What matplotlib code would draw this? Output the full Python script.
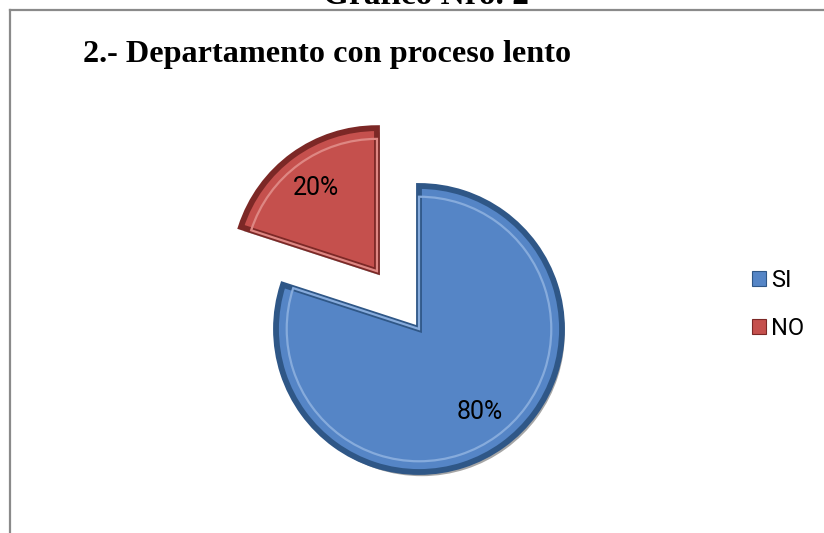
import matplotlib
matplotlib.use('Agg')
import matplotlib.pyplot as plt
from matplotlib.lines import Line2D
from matplotlib.patches import Patch
import matplotlib.patheffects as pe

# ---- data ----
categories = ['SI', 'NO']
values = [80, 20]
explode_amounts = [0.0, 0.5]
colors = ['#5585c6', '#c5504d']
edge_dark = ['#2f5787', '#7c2826']
edge_light = ['#86abdc', '#de8783']
chart_title = '2.- Departamento con proceso lento'
page_caption = 'Gráfico Nro. 2'

W, H = 824, 533
fig = plt.figure(figsize=(W / 100, H / 100), dpi=100)
fig.patch.set_facecolor('white')

cx, cy, R = 419, 329, 143
half = 200
L = half / R
ax = fig.add_axes([(cx - half) / W, (H - cy - half) / H, 2 * half / W, 2 * half / H])

shadow = [pe.SimplePatchShadow(offset=(2, -3), shadow_rgbFace='black', alpha=0.35), pe.Normal()]

wedges, texts, autotexts = ax.pie(
    values, explode=explode_amounts, colors=colors, startangle=90,
    counterclock=False, autopct='%1.0f%%', pctdistance=0.72, radius=1,
    wedgeprops=dict(linewidth=4.2),
    textprops=dict(fontsize=18, family=['Roboto', 'DejaVu Sans'], color='black'))
for w, ec in zip(wedges, edge_dark):
    w.set_edgecolor(ec)
    w.set_path_effects(shadow)
    w.set_joinstyle('miter')

inner, _ = ax.pie(values, explode=explode_amounts, startangle=90, counterclock=False,
                  radius=0.925, wedgeprops=dict(fill=False, linewidth=1.6))
for w, ec in zip(inner, edge_light):
    w.set_edgecolor(ec)
for t in autotexts:
    t.set_zorder(5)

ax.set_xlim(-L, L)
ax.set_ylim(-L, L)
ax.set_aspect('equal')
ax.axis('off')

handles = [Patch(facecolor=c, edgecolor=e, linewidth=0.8) for c, e in zip(colors, edge_dark)]
fig.legend(handles, categories, loc='center left',
           bbox_to_anchor=(752 / W, (H - 304.5) / H), bbox_transform=fig.transFigure,
           frameon=False, borderpad=0, borderaxespad=0,
           prop=dict(family=['Roboto', 'DejaVu Sans'], size=17),
           handlelength=0.6, handleheight=0.6, handletextpad=0.2, labelspacing=1.05)

# page border lines
fig.add_artist(Line2D([9.5 / W, 1], [1 - 9.5 / H, 1 - 9.5 / H], transform=fig.transFigure,
                      color='#8a8a8a', lw=1.6))
fig.add_artist(Line2D([9.5 / W, 9.5 / W], [0, 1 - 9.5 / H], transform=fig.transFigure,
                      color='#8a8a8a', lw=1.6))

fig.text(426 / W, 1 - 3.5 / H, page_caption, ha='center', va='baseline',
         fontsize=24, fontweight='bold', family='Liberation Serif')
fig.text(83 / W, 1 - 62 / H, chart_title, ha='left', va='baseline',
         fontsize=23.2, fontweight='bold', family='Liberation Serif')

fig.savefig('out.png', dpi=100, facecolor='white')
